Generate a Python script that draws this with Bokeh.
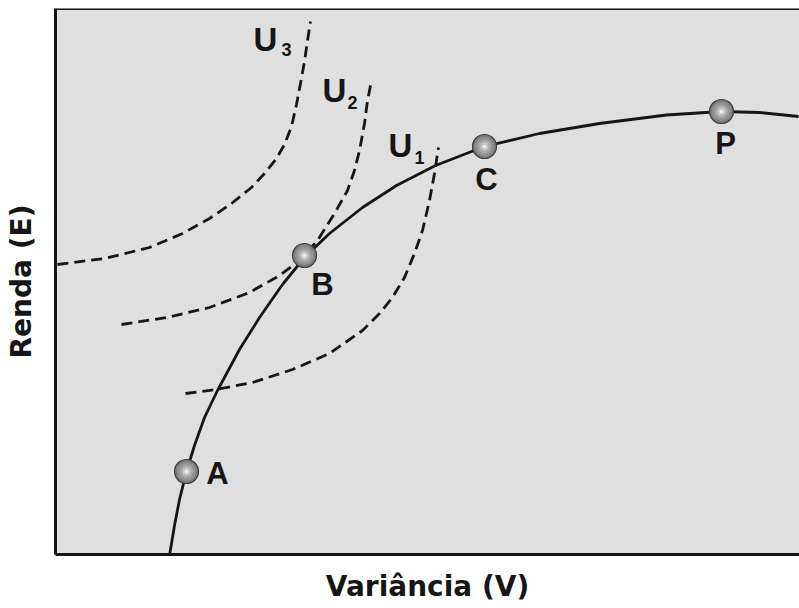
from bokeh.plotting import figure
from bokeh.models import Range1d, FixedTicker, Span
from bokeh.core.properties import value
from bokeh.embed import file_html
from bokeh.resources import INLINE

# Efficient frontier (solid curve): variance V vs. return E (arbitrary units)
frontier_v = [114, 119, 124, 131, 139, 149, 162, 184, 204, 227, 249, 274, 307, 341, 380, 429, 484, 544, 611, 666, 704, 743]
frontier_e = [-1, 29, 55, 83, 109, 137, 164, 205, 237, 270, 297, 321, 347, 369, 389, 408, 421, 431, 439.5, 443, 442, 438]

# Indifference curves (dashed)
u1_v = [130, 161, 197, 237, 274, 307, 324, 337, 349, 359, 367, 374, 379, 381, 383]
u1_e = [161, 165, 172, 185, 201, 224, 241, 257, 277, 301, 324, 354, 381, 394, 407]
u2_v = [66, 111, 154, 194, 224, 244, 262, 279, 292, 299, 304, 309, 312, 316]
u2_e = [230, 237, 247, 262, 279, 294, 314, 341, 364, 384, 404, 431, 454, 474]
u3_v = [2, 49, 94, 127, 154, 176, 196, 209, 221, 229, 236, 241, 245, 249, 252, 255]
u3_e = [290, 296, 307, 321, 336, 351, 367, 381, 396, 410, 428, 450, 471, 493, 514, 533]

# Marked portfolios
pt_names = ["A", "B", "C", "P"]
pt_v = [131, 249, 429, 666]
pt_e = [83, 299, 408, 443]
pt_label_v = [162, 267, 431, 670]
pt_label_e = [81, 270.5, 375, 411]

# Curve labels U1..U3
u_names = ["U", "U", "U"]
u_sub = ["1", "2", "3"]
u_label_v = [333, 267, 198]
u_label_e = [409.5, 464.5, 515.5]
u_sub_v = [359, 292, 226]
u_sub_e = [397.5, 452, 505]

INK = "#161616"

p = figure(width=799, height=608, output_backend="svg", toolbar_location=None,
           x_range=Range1d(0, 744), y_range=Range1d(0, 546),
           min_border_left=55, min_border_right=0, min_border_top=8, min_border_bottom=54,
           background_fill_color="#dfdfdf", border_fill_color="white",
           outline_line_color=None)
p.grid.visible = False

for ax in (p.xaxis[0], p.yaxis[0]):
    ax.ticker = FixedTicker(ticks=[])
    ax.major_tick_out = 0
    ax.major_tick_in = 0
    ax.minor_tick_out = 0
    ax.minor_tick_in = 0
    ax.major_label_standoff = 0
    ax.axis_line_width = 3
    ax.axis_line_color = INK
    ax.axis_label_text_font = "DejaVu Sans"
    ax.axis_label_text_font_style = "bold"
    ax.axis_label_text_font_size = "28px"
    ax.axis_label_text_color = INK
p.xaxis.axis_label = "Variância (V)"
p.yaxis.axis_label = "Renda (E)"
p.xaxis.axis_label_standoff = 15
p.yaxis.axis_label_standoff = 18

p.add_layout(Span(location=546, dimension="width", line_color=INK, line_width=3))

# dashed indifference curves
for vv, ee in ((u1_v, u1_e), (u2_v, u2_e), (u3_v, u3_e)):
    p.line(vv, ee, line_color=INK, line_width=2.8, line_dash="11 6", line_join="round")

# frontier
p.line(frontier_v, frontier_e, line_color=INK, line_width=2.8, line_join="round")

# spheres
p.scatter(pt_v, pt_e, size=24, fill_color="#7c7c7c", line_color="#3c3c3c", line_width=1.2)
p.scatter(pt_v, pt_e, size=19, fill_color="#929292", line_color=None)
p.scatter(pt_v, pt_e, size=13.5, fill_color="#a9a9a9", line_color=None)
p.scatter(pt_v, pt_e, size=8.5, fill_color="#c6c6c6", line_color=None)
p.scatter(pt_v, pt_e, size=4, fill_color="#ececec", line_color=None)

# point labels
p.text(pt_label_v, pt_label_e, text=pt_names, text_font=value("Liberation Sans"),
       text_font_style="bold", text_font_size="31px", text_color=INK,
       text_align="center", text_baseline="middle")

# U labels
p.text(u_label_v, u_label_e, text=u_names, text_font=value("Liberation Sans"),
       text_font_style="bold", text_font_size="33px", text_color=INK,
       text_align="left", text_baseline="middle")
p.text(u_sub_v, u_sub_e, text=u_sub, text_font=value("Liberation Sans"),
       text_font_style="bold", text_font_size="18px", text_color=INK,
       text_align="left", text_baseline="middle")

open("out.html", "w").write(file_html(p, INLINE))
